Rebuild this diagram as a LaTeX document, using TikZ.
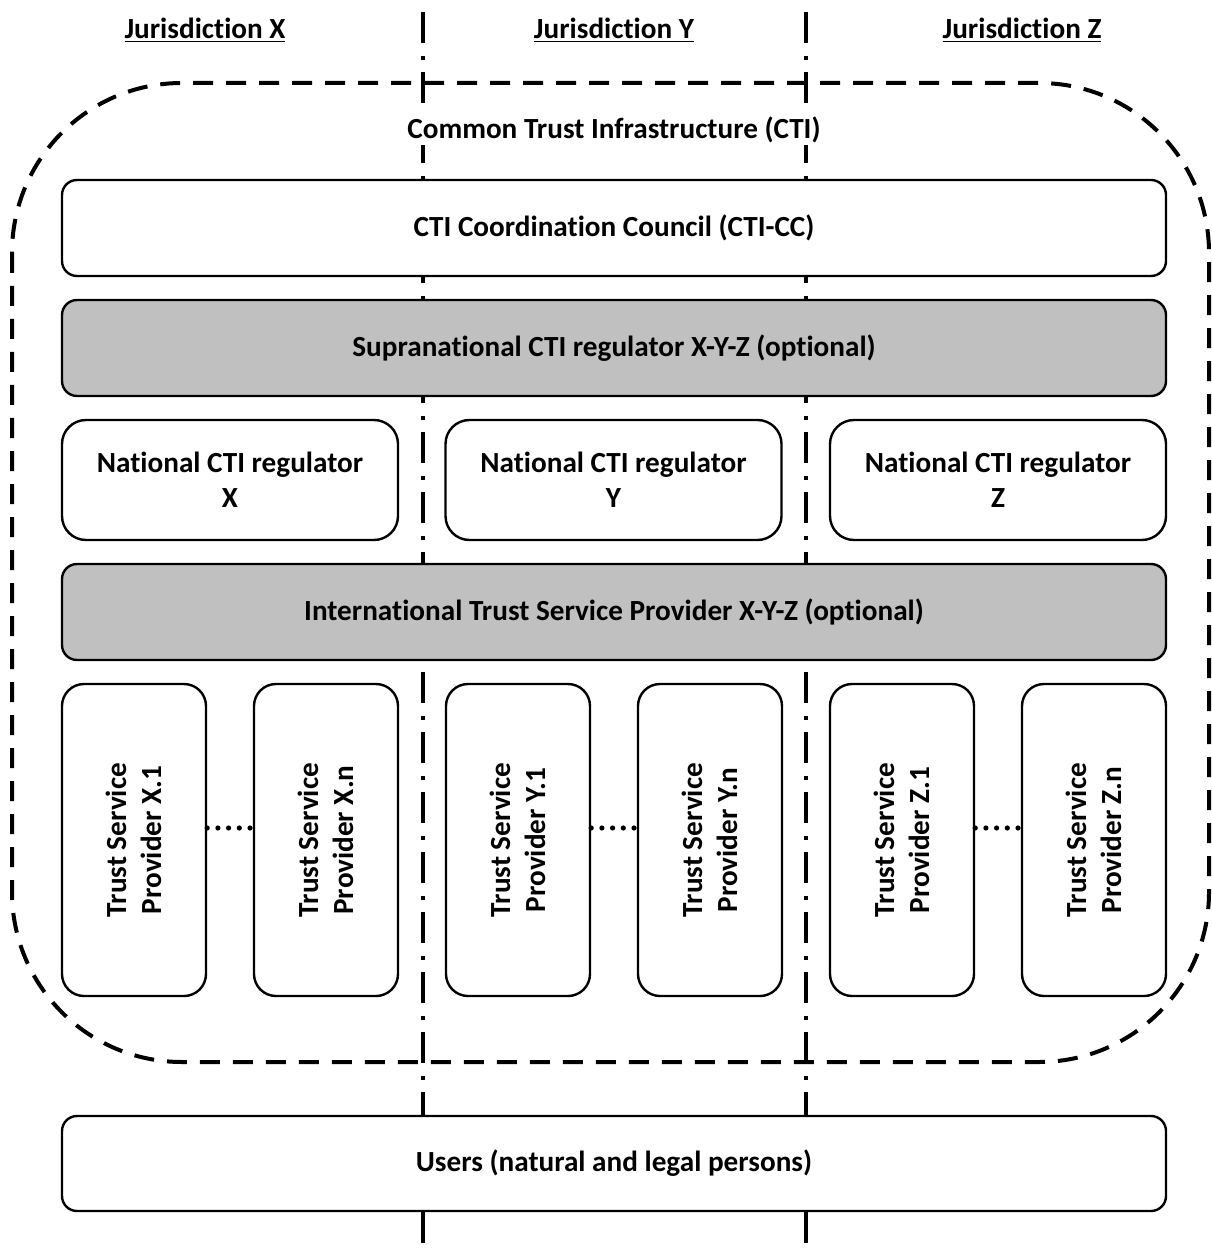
\documentclass[tikz,border=0pt]{standalone}
\usepackage{fontspec}
\setmainfont{Carlito}[Ligatures=NoCommon]
\definecolor{boxgray}{HTML}{C0C0C0}
\begin{document}
\begin{tikzpicture}[x=0.5pt,y=-0.5pt,
  every node/.style={font=\fontsize{14.6pt}{17.5pt}\selectfont\bfseries},
  basebox/.style={draw=black,line width=1.2pt,fill=white,inner sep=0pt},
  widebox/.style={basebox,rounded corners=7.5pt,minimum width=552pt,minimum height=48pt},
  graybox/.style={widebox,fill=boxgray},
  natbox/.style={basebox,rounded corners=12pt,minimum width=168pt,minimum height=60pt,align=center},
  tspbox/.style={basebox,rounded corners=11pt,minimum width=72pt,minimum height=156pt},
  tsptext/.style={rotate=90,align=center},
  divider/.style={line width=2pt,dash pattern=on 15.5pt off 6.5pt on 2pt off 6pt},
  ctiborder/.style={line width=2pt,dash pattern=on 10pt off 6.5pt,rounded corners=85pt},
  dotconn/.style={line width=2.6pt,line cap=round,dash pattern=on 0pt off 5.35pt},
  header/.style={}]
\useasboundingbox (0,0) rectangle (1211,1256);
% dividers
\coordinate (d1top) at (423,12);
\coordinate (d1bot) at (423,1252);
\coordinate (d2top) at (806,12);
\coordinate (d2bot) at (806,1252);
\draw[divider] (d1top) -- (d1bot);
\draw[divider] (d2top) -- (d2bot);
% headers
\node[header] (hx) at (205,30) {\underline{Jurisdiction X}};
\node[header] (hy) at (614,30) {\underline{Jurisdiction Y}};
\node[header] (hz) at (1022,30) {\underline{Jurisdiction Z}};
% CTI border
\draw[ctiborder] (12,83) rectangle (1209,1062);
\node[fill=white,inner sep=1pt] (cti) at (614,130) {Common Trust Infrastructure (CTI)};
% boxes
\node[widebox] (cc) at (614,228) {CTI Coordination Council (CTI-CC)};
\node[graybox] (supra) at (614,348) {Supranational CTI regulator X-Y-Z (optional)};
\node[natbox] (nx) at (230,480) {National CTI regulator\\X};
\node[natbox] (ny) at (613.5,480) {National CTI regulator\\Y};
\node[natbox] (nz) at (998,480) {National CTI regulator\\Z};
\node[graybox] (intl) at (614,612) {International Trust Service Provider X-Y-Z (optional)};
\node[tspbox] (x1) at (134,840) {};
\node[tspbox] (xn) at (326,840) {};
\node[tspbox] (y1) at (518,840) {};
\node[tspbox] (yn) at (710,840) {};
\node[tspbox] (z1) at (902,840) {};
\node[tspbox] (zn) at (1094,840) {};
\node[tsptext] (tx1) at (x1) {Trust Service\\Provider X.1};
\node[tsptext] (txn) at (xn) {Trust Service\\Provider X.n};
\node[tsptext] (ty1) at (y1) {Trust Service\\Provider Y.1};
\node[tsptext] (tyn) at (yn) {Trust Service\\Provider Y.n};
\node[tsptext] (tz1) at (z1) {Trust Service\\Provider Z.1};
\node[tsptext] (tzn) at (zn) {Trust Service\\Provider Z.n};
\draw[dotconn] ([yshift=6pt]x1.east) -- ([yshift=6pt]xn.west);
\draw[dotconn] ([yshift=6pt]y1.east) -- ([yshift=6pt]yn.west);
\draw[dotconn] ([yshift=6pt]z1.east) -- ([yshift=6pt]zn.west);
\node[widebox,minimum height=47.5pt] (users) at (614,1163.5) {Users (natural and legal persons)};
\end{tikzpicture}
\end{document}
